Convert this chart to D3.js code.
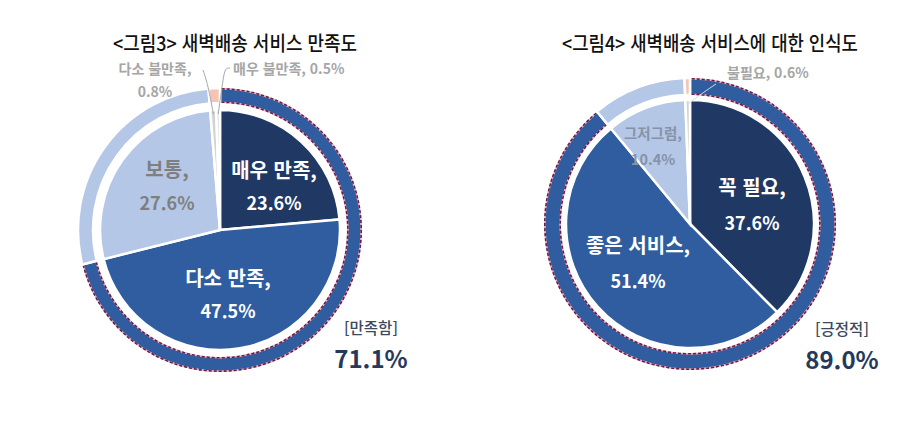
<!DOCTYPE html>
<html lang="ko">
<head>
<meta charset="utf-8">
<script src="https://cdn.jsdelivr.net/npm/d3@7"></script>
<style>
  html, body { margin: 0; padding: 0; background: #ffffff; }
  svg { display: block; font-family: "Noto Sans CJK KR", "Noto Sans", sans-serif; }
</style>
</head>
<body>
<div id="chart"></div>
<script>
// ---- data ----
const leftTitle = '<그림3> 새벽배송 서비스 만족도';
const leftCategories = ['매우 만족', '다소 만족', '보통', '다소 불만족', '매우 불만족'];
const leftValues = [23.6, 47.5, 27.6, 0.8, 0.5];
const leftGroups = ['만족함', '보통', '불만족'];
const leftGroupValues = [71.1, 27.6, 1.3];

const rightTitle = '<그림4> 새벽배송 서비스에 대한 인식도';
const rightCategories = ['꼭 필요', '좋은 서비스', '그저그럼', '불필요'];
const rightValues = [37.6, 51.4, 10.4, 0.6];
const rightGroups = ['긍정적', '그저그럼', '불필요'];
const rightGroupValues = [89.0, 10.4, 0.6];

// ---- theme ----
const NAVY = '#203864', MID = '#2f5d9f', LIGHT = '#b4c7e7', GRAY = '#d3d3d3', PINK = '#f4c4b8';

const width = 919, height = 430;
const svg = d3.select('#chart').append('svg')
    .attr('width', width)
    .attr('height', height);

function drawChart(cfg) {
    const g = svg.append('g').attr('transform', `translate(${cfg.cx},${cfg.cy})`);

    // title
    svg.append('text')
        .attr('x', cfg.titleX).attr('y', 42)
        .attr('text-anchor', 'middle')
        .attr('dominant-baseline', 'central')
        .attr('font-size', 20)
        .attr('font-weight', 500)
        .attr('textLength', cfg.titleWidth)
        .attr('lengthAdjust', 'spacingAndGlyphs')
        .attr('fill', '#111')
        .text(cfg.title);

    const pie = d3.pie().sort(null).value(d => d);

    // outer ring
    const ringArc = d3.arc().innerRadius(cfg.ringIn).outerRadius(cfg.ringOut);
    const ringData = pie(cfg.groupValues);
    g.selectAll('path.ring')
        .data(ringData)
        .join('path')
        .attr('class', 'ring')
        .attr('d', ringArc)
        .attr('fill', (d, i) => cfg.groupColors[i])
        .attr('stroke', '#fff')
        .attr('stroke-width', 2.5);

    // dashed border on the positive group (outer and inner edges)
    const pos = ringData[0];
    [cfg.ringIn + 0.8, cfg.ringOut - 0.8].forEach(r => {
        const p = d3.path();
        const a0 = pos.startAngle + 0.012, a1 = pos.endAngle - 0.012;
        p.arc(0, 0, r, a0 - Math.PI / 2, a1 - Math.PI / 2);
        g.append('path').attr('d', p.toString())
            .attr('fill', 'none').attr('stroke', '#eaa7c0').attr('stroke-width', 1.6);
        g.append('path').attr('d', p.toString())
            .attr('fill', 'none').attr('stroke', '#5e2149')
            .attr('stroke-width', 1.6).attr('stroke-dasharray', '3,2');
    });

    // inner pie
    const arc = d3.arc().innerRadius(0).outerRadius(cfg.r);
    const pieData = pie(cfg.values);
    g.selectAll('path.slice')
        .data(pieData)
        .join('path')
        .attr('class', 'slice')
        .attr('d', arc)
        .attr('fill', (d, i) => cfg.colors[i])
        .attr('stroke', '#fff')
        .attr('stroke-width', 2.5);

    // leader lines for tiny slices
    cfg.labels.forEach((lab, i) => {
        if (!lab.leader) return;
        const d = pieData[i];
        const mid = (d.startAngle + d.endAngle) / 2;
        const end = [Math.sin(mid) * (cfg.r - 4), -Math.cos(mid) * (cfg.r - 4)];
        g.append('path')
            .attr('d', d3.line().curve(d3.curveBasis)(lab.leader.concat([end])))
            .attr('fill', 'none')
            .attr('stroke', lab.leaderColor || '#a6a6a6')
            .attr('stroke-width', 1);
    });

    // slice labels
    cfg.labels.forEach((lab, i) => {
        const pct = d3.format('.1f')(cfg.values[i]) + '%';
        const t = g.append('text')
            .attr('text-anchor', lab.anchor || 'middle')
            .attr('dominant-baseline', 'central')
            .attr('font-weight', 700)
            .attr('fill', lab.color);
        if (lab.oneLine) {
            t.attr('x', lab.dx).attr('y', lab.dy[0]).attr('font-size', lab.size)
                .text(`${cfg.categories[i]}, ${pct}`);
        } else {
            t.append('tspan').attr('x', lab.dx).attr('y', lab.dy[0])
                .attr('font-size', lab.nameSize || lab.size).text(cfg.categories[i] + ',');
            t.append('tspan').attr('x', lab.dx).attr('y', lab.dy[1])
                .attr('font-size', lab.size).text(pct);
        }
    });

    // group summary
    g.append('text')
        .attr('x', cfg.sum.dx).attr('y', cfg.sum.dy[0])
        .attr('text-anchor', 'middle').attr('dominant-baseline', 'central')
        .attr('font-size', 15.5).attr('font-weight', 500).attr('fill', '#3b4a60')
        .text(`[${cfg.groups[0]}]`);
    g.append('text')
        .attr('x', cfg.sum.dx).attr('y', cfg.sum.dy[1])
        .attr('text-anchor', 'middle').attr('dominant-baseline', 'central')
        .attr('font-size', 24).attr('font-weight', 700).attr('fill', '#25395a')
        .text(d3.format('.1f')(cfg.groupValues[0]) + '%');
}

drawChart({
    title: leftTitle, titleX: 235, titleWidth: 244,
    cx: 220, cy: 230, r: 120, ringIn: 127, ringOut: 142,
    categories: leftCategories, values: leftValues,
    groups: leftGroups, groupValues: leftGroupValues,
    colors: [NAVY, MID, LIGHT, GRAY, '#dcdcdc'],
    groupColors: [MID, LIGHT, PINK],
    labels: [
        { dx: 54, dy: [-61, -28], size: 18, nameSize: 20, color: '#ffffff' },
        { dx: 8, dy: [47, 80], size: 18, nameSize: 20, color: '#ffffff' },
        { dx: -53, dy: [-62, -28], size: 18, nameSize: 20, color: '#7f7f7f' },
        { dx: -65, dy: [-162, -139], size: 14, color: '#a6a6a6', leader: [[-17, -160], [-12, -145]] },
        { dx: 13, dy: [-162], size: 14, color: '#a6a6a6', oneLine: true, anchor: 'start', leader: [[10, -162], [5, -162], [3, -150]] }
    ],
    sum: { dx: 151, dy: [97, 127] }
});

drawChart({
    title: rightTitle, titleX: 710, titleWidth: 296,
    cx: 690, cy: 224, r: 124, ringIn: 129, ringOut: 146,
    categories: rightCategories, values: rightValues,
    groups: rightGroups, groupValues: rightGroupValues,
    colors: [NAVY, MID, LIGHT, GRAY],
    groupColors: [MID, LIGHT, PINK],
    labels: [
        { dx: 62, dy: [-38, -2], size: 18, nameSize: 20, color: '#ffffff' },
        { dx: -52, dy: [20, 56], size: 18, nameSize: 20, color: '#ffffff' },
        { dx: -37, dy: [-92, -66], size: 14.5, color: '#8593a8' },
        { dx: 37, dy: [-152], size: 14, color: '#a6a6a6', oneLine: true, anchor: 'start', leaderColor: '#d4dbe8', leader: [[26, -140], [14, -132]] }
    ],
    sum: { dx: 152, dy: [104, 134] }
});
</script>
</body>
</html>
